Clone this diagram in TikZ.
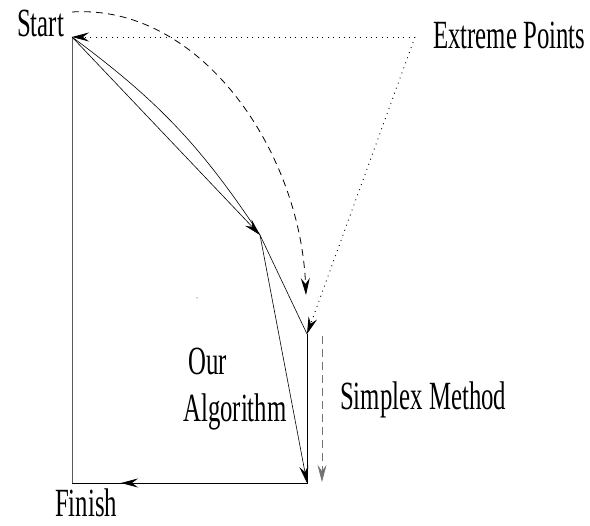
\documentclass[tikz,border=0pt]{standalone}
\usepackage{fontspec}
\setmainfont{Liberation Serif}[FakeStretch=0.62]
\usetikzlibrary{arrows.meta, positioning, calc}

\begin{document}
\begin{tikzpicture}[
  x=1pt, y=-1pt,
  arr/.style={-{Stealth[length=17pt, width=9pt, inset=6pt]}},
  edge/.style={draw, line width=0.8pt},
  lbl/.style={font=\fontsize{40}{44}\selectfont, inner sep=0pt, anchor=base west}
  ]
  \useasboundingbox (0,0) rectangle (590,526);
  % vertices
  \coordinate (S) at (72,37);
  \coordinate (A) at (260,235);
  \coordinate (B) at (307,334);
  \coordinate (C) at (307,483);
  \coordinate (D) at (72,483);
  \coordinate (E) at (415,37);
  \coordinate (fin) at (121,483);
  \coordinate (arc) at (72,12);
  \coordinate (arcend) at (306,295);
  \coordinate (sxtop) at (322,336);
  \coordinate (sxend) at (322,482);
  % labels
  \node[lbl] (start) at (17,37) {Start};
  \node[lbl] (extreme) at (433,49) {Extreme Points};
  \node[lbl] (our) at (188,375) {Our};
  \node[lbl] (algo) at (183,422) {Algorithm};
  \node[lbl] (simplex) at (340,410) {Simplex Method};
  \node[lbl] (finish) at (55,517) {Finish};
  % feasible region
  \draw[black!65, line width=0.7pt] (S) -- (D);
  \draw[edge] (D) -- (C) -- (B);
  \draw[line width=0.6pt] (S) to[bend left=10] (A) -- (B);
  % our algorithm
  \draw[arr, line width=0.6pt] (S) -- (A);
  \draw[arr, line width=0.6pt] (A) -- (C);
  \draw[arr, edge] (C) -- (fin);
  % extreme points
  \draw[arr, line width=0.9pt, dash pattern=on 0.9pt off 4.5pt] (E) -- (S);
  \draw[arr, line width=0.9pt, dash pattern=on 0.9pt off 4.5pt] (E) -- (B);
  \draw[arr, line width=0.8pt, dash pattern=on 7pt off 5pt] (arc) .. controls (200,4) and (300,150) .. (arcend);
  % simplex method
  \draw[arr, black!55, line width=0.8pt, dash pattern=on 8pt off 5pt] (sxtop) -- (sxend);
  \fill (197,298) circle (0.5pt);
\end{tikzpicture}
\end{document}
